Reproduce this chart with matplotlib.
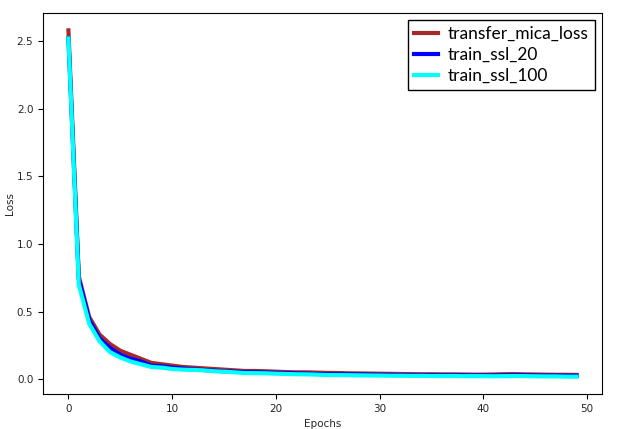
import matplotlib
matplotlib.use('Agg')
import matplotlib.pyplot as plt

epochs = list(range(50))

transfer_mica_loss = [2.58, 0.76, 0.46, 0.33, 0.26, 0.21, 0.18, 0.15, 0.12, 0.11,
                      0.10, 0.09, 0.085, 0.08, 0.075, 0.07, 0.065, 0.06, 0.06, 0.058,
                      0.055, 0.052, 0.05, 0.05, 0.048, 0.046, 0.045, 0.043, 0.042, 0.041,
                      0.04, 0.039, 0.038, 0.037, 0.036, 0.036, 0.035, 0.035, 0.034, 0.033,
                      0.033, 0.034, 0.036, 0.037, 0.035, 0.034, 0.033, 0.032, 0.032, 0.031]
train_ssl_20 = [2.52, 0.74, 0.44, 0.30, 0.23, 0.18, 0.15, 0.13, 0.10, 0.095,
                0.085, 0.078, 0.072, 0.068, 0.062, 0.058, 0.055, 0.052, 0.05, 0.048,
                0.046, 0.044, 0.042, 0.04, 0.038, 0.037, 0.036, 0.035, 0.034, 0.033,
                0.032, 0.031, 0.03, 0.03, 0.029, 0.029, 0.028, 0.028, 0.028, 0.027,
                0.027, 0.027, 0.028, 0.029, 0.028, 0.027, 0.026, 0.026, 0.025, 0.025]
train_ssl_100 = [2.52, 0.70, 0.41, 0.28, 0.20, 0.16, 0.13, 0.11, 0.09, 0.085,
                 0.075, 0.07, 0.068, 0.065, 0.058, 0.055, 0.05, 0.045, 0.044, 0.043,
                 0.04, 0.038, 0.036, 0.035, 0.033, 0.03, 0.03, 0.029, 0.028, 0.027,
                 0.026, 0.025, 0.025, 0.024, 0.024, 0.023, 0.023, 0.023, 0.022, 0.022,
                 0.022, 0.021, 0.022, 0.023, 0.022, 0.021, 0.02, 0.02, 0.018, 0.018]

fig = plt.figure(figsize=(6.17, 4.29), dpi=100)
ax = fig.add_axes([0.0697, 0.0816, 0.906, 0.888])

ax.plot(epochs, transfer_mica_loss, color='#a52a2a', lw=3, label='transfer_mica_loss')
ax.plot(epochs, train_ssl_20, color='blue', lw=3, label='train_ssl_20')
ax.plot(epochs, train_ssl_100, color='cyan', lw=3, label='train_ssl_100')

ax.set_xlabel('Epochs', fontsize=7.5, color='#262626')
ax.set_ylabel('Loss', fontsize=7.5, color='#262626', labelpad=1)
ax.tick_params(labelsize=7.5, labelcolor='#262626', length=3.5)
ax.set_xticks([0, 10, 20, 30, 40, 50])

leg = ax.legend(loc='upper right', prop={'family': 'Lato', 'size': 12.5},
                fancybox=False, framealpha=1, edgecolor='black',
                handlelength=1.35, handletextpad=0.6, borderpad=0.35,
                labelspacing=0.28, borderaxespad=0.4)
leg.get_frame().set_linewidth(1.0)

fig.savefig('out.png', dpi=100)
